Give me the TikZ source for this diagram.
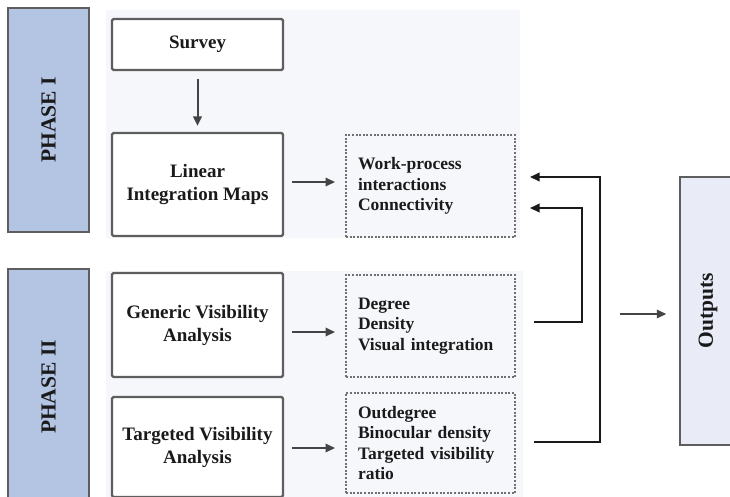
\documentclass[tikz,border=0pt]{standalone}
\usepackage{fontspec}
\setmainfont{Liberation Serif}
\usetikzlibrary{arrows.meta,calc}
\definecolor{phasefill}{HTML}{B4C5E4}
\definecolor{panelfill}{HTML}{F5F7FB}
\definecolor{outfill}{HTML}{E9ECF7}
\definecolor{boxline}{HTML}{5E5E5E}
\definecolor{dotline}{HTML}{707070}
\definecolor{arrowcol}{HTML}{444444}
\definecolor{inkcol}{HTML}{1A1A1A}
\tikzset{
  phasebox/.style={draw=boxline, line width=1.5pt, fill=phasefill, inner sep=0pt,
    minimum width=81pt},
  panel/.style={fill=panelfill, draw=none},
  stagebox/.style={draw=boxline, line width=2.2pt, rounded corners=1.5pt, fill=white,
    inner sep=0pt, minimum width=171pt, align=center, text=inkcol,
    font=\fontsize{19}{23}\selectfont\bfseries},
  metricbox/.style={draw=dotline, line width=2pt, dash pattern=on 2pt off 1.6pt,
    fill=panelfill, inner xsep=12pt, inner ysep=0pt, minimum width=167pt,
    text width=145pt, align=left, text=inkcol,
    font=\fontsize{17.5}{20.5}\selectfont\bfseries},
  outbox/.style={draw=boxline, line width=1.5pt, fill=outfill, inner sep=0pt,
    minimum width=56pt, minimum height=268pt},
  vlabel/.style={rotate=90, text=inkcol, font=\fontsize{21.5}{24}\selectfont\bfseries},
  arr/.style={draw=arrowcol, line width=2pt, -{Triangle[length=9.5pt,width=8.5pt]}},
  feed/.style={draw=inkcol, line width=2pt, -{Triangle[length=9.5pt,width=8.5pt]}},
}
\begin{document}
\begin{tikzpicture}[x=1pt, y=-1pt]
\useasboundingbox (0,0) rectangle (730,496);
\clip (0,0) rectangle (730,496);

% background panels of the two phases
\fill[panel] (106,10) rectangle (520,238);
\fill[panel] (106,271) rectangle (523,500);

% phase markers
\node[phasebox, minimum height=224pt, label={[vlabel]center:PHASE I}] (p1) at (48.5,120) {};
\node[phasebox, minimum height=236pt, label={[vlabel]center:PHASE II}] (p2) at (48.5,387) {};

% phase I stages
\node[stagebox, minimum height=51pt] (survey) at (197.5,44.5) {Survey};
\node[stagebox, minimum height=103pt] (lim) at (197.5,184.5) {Linear\\Integration Maps};

% phase II stages
\node[stagebox, minimum height=104pt] (gva) at (197.5,325) {Generic Visibility\\Analysis};
\node[stagebox, minimum height=100pt] (tva) at (197.5,447) {Targeted Visibility\\Analysis};

% metric groups
\node[metricbox, minimum height=102pt] (m1) at (430.5,186) {Work-process\\interactions\\Connectivity};
\node[metricbox, minimum height=102pt] (m2) at (430.5,326) {Degree\\Density\\Visual integration};
\node[metricbox, minimum height=100pt] (m3) at (430.5,443) {Outdegree\\Binocular density\\Targeted visibility\\ratio};

% outputs
\node[outbox, label={[vlabel]center:Outputs}] (out) at (708,311) {};

% main flow
\draw[arr] ([yshift=-8pt]survey.south) -- ([yshift=6pt]lim.north);
\draw[arr] ([xshift=8pt]$(lim.east)+(0,-2.5)$) -- ([xshift=-10pt]$(m1.west |- lim.east)+(0,-2.5)$);
\draw[arr] ([xshift=8pt]$(gva.east)+(0,7)$) -- ([xshift=-10pt]$(m2.west |- gva.east)+(0,7)$);
\draw[arr] ([xshift=8pt]$(tva.east)+(0,1)$) -- ([xshift=-10pt]$(m3.west |- tva.east)+(0,1)$);

% feedback of phase II metrics into phase I
\coordinate (innerbend) at (582,0);
\coordinate (outerbend) at (600,0);
\draw[feed] ([xshift=18pt]$(m2.east)+(0,-4)$) -| (innerbend |- 0,208) -- ([xshift=14pt]m1.east |- 0,208);
\draw[feed] ([xshift=18pt]$(m3.east)+(0,-1)$) -| (outerbend |- 0,177) -- ([xshift=14pt]m1.east |- 0,177);

% into the outputs
\coordinate (outstart) at (620,314);
\draw[arr] (outstart) -- ([xshift=-13pt]out.west |- outstart);
\end{tikzpicture}
\end{document}
